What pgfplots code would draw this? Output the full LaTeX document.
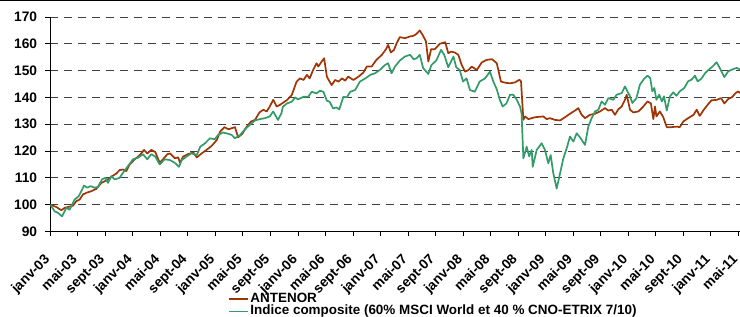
\documentclass[border=0pt]{standalone}
\usepackage{pgfplots}
\pgfplotsset{compat=1.18}
\usepackage{fontspec}
\setmainfont{Liberation Sans}
\definecolor{antenor}{RGB}{160,52,4}
\definecolor{indice}{RGB}{51,155,105}
\begin{document}
\begin{tikzpicture}
\useasboundingbox (-50.3bp,-85.6bp) rectangle (689.7bp,231.4bp);
\draw[line width=1.4bp] (-50.3bp,230.7bp) -- (689.7bp,230.7bp);
\begin{axis}[at={(0,0)}, anchor=south west, scale only axis,
  width=689.7bp, height=214.4bp,
  xmin=0, xmax=100.25, ymin=90, ymax=170,
  axis x line*=bottom, axis y line*=left,
  axis line style={line width=1bp, black, -},
  tick align=outside, major tick length=5bp,
  tick style={line width=0.9bp, black},
  ytick={90,100,...,170},
  xtick={0,4,...,100},
  xticklabels={janv-03,mai-03,sept-03,janv-04,mai-04,sept-04,janv-05,mai-05,sept-05,janv-06,mai-06,sept-06,janv-07,mai-07,sept-07,janv-08,mai-08,sept-08,janv-09,mai-09,sept-09,janv-10,mai-10,sept-10,janv-11,mai-11},
  ymajorgrids, grid style={black!75, line width=0.8bp, dash pattern=on 8bp off 6bp},
  /pgf/number format/assume math mode=true,
  ticklabel style={font=\fontsize{13.8}{16}\selectfont\bfseries},
  yticklabel style={anchor=east, inner sep=0pt},
  yticklabel shift=8bp,
  xticklabel style={rotate=45, anchor=north east, inner sep=0pt, xshift=-10bp},
  xticklabel shift=9.5bp,
  legend style={at={(axis description cs:0.2577,-0.285)}, anchor=north west, draw=none, fill=none,
    font=\fontsize{13.5}{15}\selectfont\bfseries, inner sep=0pt, row sep=0bp,
    nodes={text height=9.5bp, text depth=3.1bp, inner ysep=0bp, inner xsep=1.5bp}},
  legend image code/.code={\draw[#1] (0bp,0bp) -- (19bp,0bp);},
  legend cell align=left,
]
\addplot[antenor, line width=1.7bp, line join=round] coordinates {
(0,100) (0.88,99.1) (1.6,97.9) (2.09,98.8) (2.57,99.1) (3.3,99.6) (3.79,101.3) (4.27,101.9) (4.75,103.8) (5.24,104.4) (5.96,105) (6.69,105.9) (7.42,108.1) (8.14,109) (8.87,110.4) (9.6,111.6) (10.08,112.9) (10.57,113.1) (11.05,112.5) (11.54,115) (12.27,116.9) (12.99,118.4) (13.62,120.4) (14.1,119.1) (14.68,120.4) (15.26,119.6) (15.9,115.6) (16.38,116.9) (17.01,118.8)
(17.4,119.1) (18.1,117.3) (18.6,117.6) (18.85,115.6) (19.3,117.9) (20.06,118.9) (20.8,119.4) (21.3,117.6) (22,119.1) (22.7,120.4) (23.45,121.9) (24.2,124.1) (24.7,127.3) (25.3,128.9) (25.9,128.1) (26.36,128.5) (26.84,128.9) (27.3,125.1) (27.9,126.4) (28.5,128.9) (29.17,131) (29.75,131.6) (30.4,134.4) (30.96,135.4) (31.45,134.75) (31.9,136.6) (32.4,139.1) (32.9,136.6) (33.4,137.25)
(34.4,139) (35.1,140.9) (35.8,145.9) (36.3,147.1) (36.8,146.5) (37.3,148.4) (37.7,147.1) (38.2,150.25) (38.7,152.75) (38.96,151.5) (39.45,153.4) (39.8,154.6) (40.2,147.75) (40.6,145.9) (40.9,144.6) (41.4,146.5) (41.9,145.9) (42.4,147.1) (42.85,146.25) (43.3,147.75) (44.05,146.5) (44.8,147.75) (45.5,149.25) (46,151.5) (46.7,151.5) (47.4,154) (48.2,155.9) (48.8,158) (49.1,159.6) (49.5,156.75) (49.96,157.75) (50.35,160.25)
(50.8,162.5) (51.55,162.1) (52.3,162.75) (52.8,163) (53.25,163.75) (53.7,165) (54.1,163.4) (54.6,160.9) (54.95,153.4) (55.35,158) (55.9,158) (56.6,160) (57.4,160.6) (57.85,156.5) (58.3,157.1) (58.8,156.75) (59.3,155.9) (59.8,152.1) (60.3,149.6) (60.8,150.25) (61.25,151.5) (62,150.25) (62.7,153) (63.4,154) (64.2,154.25) (64.9,152.75) (65.5,145.9) (66.1,145.5) (66.8,145.25)
(67.55,145.6) (68.18,146.6) (68.42,146) (68.76,131.6) (69,132.9) (69.5,131.9) (70.45,132.6) (71.66,132.9) (72.15,131.9) (72.63,132.25) (73.36,131.6) (74.09,131.4) (74.81,132.6) (75.54,133.9) (76.27,135.1) (76.75,136) (77.24,133.5) (77.72,132.25) (78.45,133.5) (79.17,133.9) (79.9,134.75) (80.63,136) (81.11,135.1) (81.6,135.4) (82.08,133.5) (82.57,135.6) (83.05,136.6) (83.53,139.1) (83.78,141)
(84.26,135.4) (84.74,134.4) (85.47,134.75) (86.2,136.6) (86.8,138.5) (87.3,137.75) (87.65,131.9) (87.9,136.6) (88.1,132.9) (88.6,134.75) (89.1,132.6) (89.6,128.9) (90.3,128.9) (91,129.1) (91.5,128.9) (92,131) (92.7,132.25) (93.5,133.5) (93.95,135.4) (94.4,133.1) (94.9,135.1) (95.55,137.25) (96.1,138.9) (96.9,139.1) (97.5,139.75) (97.97,137.75) (98.55,139.4) (99.1,140.1) (99.6,141.6) (100,142.25) (100.25,141.6)
};
\addlegendentry{ANTENOR}
\addplot[indice, line width=1.7bp, line join=round] coordinates {
(0,100) (0.63,97.5) (1.12,96.9) (1.7,95.6) (2.33,98.8) (2.81,98.1) (3.54,101.9) (4.12,103.1) (4.51,105) (4.9,107.1) (5.38,106.3) (5.87,106.9) (6.45,106.3) (6.93,106.6) (7.51,109.4) (8,110) (8.39,108.1) (8.87,110.6) (9.36,109.4) (10.08,110) (10.57,111.9) (11.3,114.4) (12.02,116.9) (12.75,117.5) (13.47,118.8) (14.1,116.9) (14.68,118.8) (15.26,117.9) (15.9,115) (16.63,116.9)
(17.4,116.6) (18.1,115.6) (18.7,114.1) (19.1,116.6) (19.8,117.9) (20.5,119.1) (21.3,118.5) (21.8,121.6) (22.5,122.9) (23.2,124.75) (23.9,124.4) (24.4,126) (25.1,126.9) (25.9,126.4) (26.36,126) (26.84,124.75) (27.6,126) (28.3,128.1) (29,129.75) (29.75,131.4) (30.47,131.9) (31.2,132.25) (31.9,132.9) (32.4,134.75) (33.1,131.6) (33.6,134.1)
(33.8,136.5) (34.4,137.75) (35.1,138.4) (35.6,140) (36,139.25) (36.8,140.25) (37.5,140.25) (38,142.1) (38.7,141.5) (39.2,142.5) (39.7,142.1) (40.2,138.75) (40.6,138.4) (41.1,135.9) (41.6,136.25) (42,135.5) (42.6,140.25) (43.1,140) (43.6,142.1) (44.3,142.75) (45,145.9) (45.8,147.1) (46.5,148.4) (47.2,149) (47.9,150.25) (48.65,152.1) (49.1,152.75) (49.6,149) (50.1,151.5)
(50.8,153.75) (51.55,155.25) (52.3,155.9) (52.8,154.25) (53.25,154.6) (53.7,155.9) (54.2,150.9) (54.95,148.75) (55.4,152.1) (56.1,153.75) (56.8,157.75) (57.25,155.9) (57.85,151.25) (58.6,155.25) (59,151.25) (59.5,150.25) (60,145.9) (60.5,147.1) (61,142.75) (61.7,142.1) (62.4,145.9) (63.2,147.1) (63.9,149.6) (64.4,145.9) (64.9,143) (65.35,139) (65.75,136.6) (66.3,137.75) (66.82,141)
(67.3,141) (67.8,139.1) (68.27,136.6) (68.5,134) (68.76,117.25) (69.24,121.6) (69.6,118) (69.97,120.4) (70.12,114.1) (70.7,120.4) (71.42,122.9) (71.9,120.4) (72.39,115.4) (72.73,118.5) (73.12,111.6) (73.6,106) (74.09,111.6) (74.57,117.25) (75.06,121) (75.54,125.4) (76.03,123.5) (76.51,126.6) (77.09,124.75) (77.72,122.25) (78.2,129.1) (78.69,132.25) (79.17,134.75) (79.66,135.4) (80.14,138.5) (80.63,137.25) (81.11,139.75) (81.84,139.1) (82.32,141) (83.05,141.6) (83.53,144.1) (84.02,141.6)
(84.26,140.4) (84.6,137.9) (85.2,139.75) (85.7,144.75) (86.3,146.9) (86.8,148.1) (87.2,147.25) (87.5,142.25) (87.8,143.5) (88.1,139.1) (88.5,141) (88.9,138.5) (89.2,140.4) (89.6,135.1) (90.07,140.4) (90.56,141.9) (91,140.6) (91.5,142.25) (92.15,143.5) (92.7,146) (93.2,146.6) (93.7,148.1) (94.1,146) (94.6,146.9) (95.2,149.1) (95.6,150.1) (96.2,151.4) (96.85,153.1) (97.3,151) (97.97,147.6) (98.55,149.75) (99.3,150.6) (99.8,151) (100.25,150.4)
};
\addlegendentry{Indice composite (60\% MSCI World et 40 \% CNO-ETRIX 7/10)}
\end{axis}
\end{tikzpicture}
\end{document}
